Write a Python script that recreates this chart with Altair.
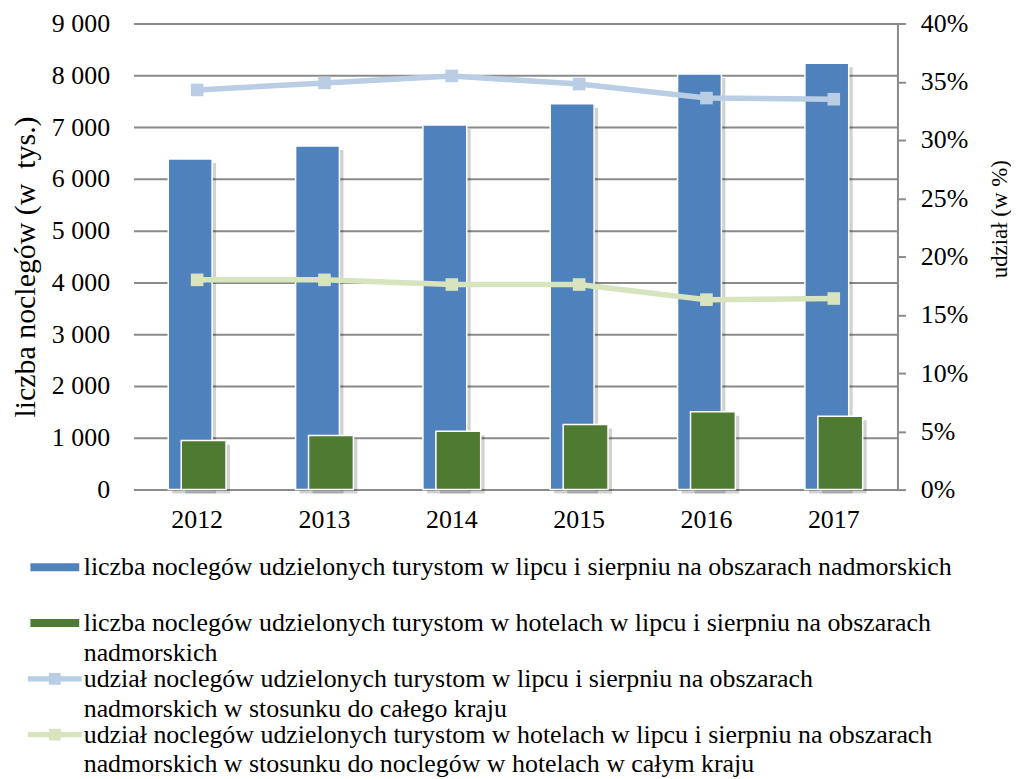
import altair as alt
import pandas as pd

years = ["2012", "2013", "2014", "2015", "2016", "2017"]
nights_total = [6385, 6635, 7040, 7450, 8025, 8230]
nights_hotels = [950, 1045, 1125, 1255, 1505, 1415]
share_total = [34.3, 34.9, 35.5, 34.8, 33.6, 33.5]
share_hotels = [18.0, 18.0, 17.6, 17.6, 16.3, 16.4]

series_labels = [
    "liczba noclegów udzielonych turystom w lipcu i sierpniu na obszarach nadmorskich| ",
    "liczba noclegów udzielonych turystom w hotelach w lipcu i sierpniu na obszarach|nadmorskich",
    "udział noclegów udzielonych turystom w lipcu i sierpniu na obszarach|nadmorskich w stosunku do całego kraju",
    "udział noclegów udzielonych turystom w hotelach w lipcu i sierpniu na obszarach|nadmorskich w stosunku do noclegów w hotelach w całym kraju",
]
series_colors = ["#4F81BD", "#4E7A31", "#B9CDE5", "#D7E4BD"]
# legend symbol shapes (unit = half of sqrt(symbolSize))
symbol_paths = [
    "M-2.13,-0.35H2.13V0.35H-2.13Z",
    "M-2.13,-0.35H2.13V0.35H-2.13Z",
    "M-2.35,-0.22H2.35V0.22H-2.35Z M-0.52,-0.52H0.52V0.52H-0.52Z",
    "M-2.35,-0.22H2.35V0.22H-2.35Z M-0.52,-0.52H0.52V0.52H-0.52Z",
]

GRID = "#8A8A8A"
FONT = "Liberation Serif, Times New Roman, serif"
FS = 26

bars_df = pd.DataFrame({"year": years, "total": nights_total, "hotels": nights_hotels})
lines_df = pd.DataFrame({"year": years, "s_total": share_total, "s_hotels": share_hotels})
legend_df = pd.DataFrame({"series": series_labels, "year": [years[0]] * 4, "total": [0] * 4})

x_enc = alt.X(
    "year:N",
    scale=alt.Scale(domain=years, paddingInner=0, paddingOuter=0),
    axis=alt.Axis(title=None, labelAngle=0, ticks=False, domainColor=GRID, domainWidth=2,
                  labelPadding=17, grid=False),
)

left_axis = alt.Axis(
    values=list(range(0, 9001, 1000)),
    title="liczba noclegów (w\u00a0\u00a0tys.)",
    labelExpr="replace(format(datum.value, ','), ',', '\u00a0')",
    grid=True, gridColor=GRID, gridWidth=2, domain=False, ticks=False, labelPadding=24,
    titleX=-108, titleY=244, titleAngle=270, titleAlign="center", titleBaseline="middle",
    titleFontSize=30,
)
left_scale = alt.Scale(domain=[0, 9000], nice=False)

right_axis = alt.Axis(
    orient="right", values=list(range(0, 41, 5)), labelExpr="datum.value + '%'",
    grid=False, domain=True, domainColor=GRID, domainWidth=2, ticks=True, tickSize=8,
    tickColor=GRID, tickWidth=2, labelPadding=15,
    title="udział (w %)", titleX=102, titleY=196, titleAngle=270,
    titleAlign="center", titleBaseline="middle", titleFontSize=23,
)
right_scale = alt.Scale(domain=[0, 40], nice=False)

base_bars = alt.Chart(bars_df)

blue_shadow = base_bars.mark_bar(color="#000000", opacity=0.18, width=44, xOffset=-3, yOffset=4).encode(
    x=x_enc, y=alt.Y("total:Q", scale=left_scale, axis=left_axis))
blue = base_bars.mark_bar(color=series_colors[0], stroke="white", strokeWidth=1.5, width=44, xOffset=-7).encode(
    x=x_enc, y=alt.Y("total:Q", scale=left_scale, axis=left_axis))
green_shadow = base_bars.mark_bar(color="#000000", opacity=0.18, width=45, xOffset=10.5, yOffset=4).encode(
    x=x_enc, y=alt.Y("hotels:Q", scale=left_scale, axis=left_axis))
green = base_bars.mark_bar(color=series_colors[1], stroke="white", strokeWidth=1.5, width=45, xOffset=6.5).encode(
    x=x_enc, y=alt.Y("hotels:Q", scale=left_scale, axis=left_axis))

legend = alt.Legend(
    title=None, orient="none", legendX=-92, legendY=533, direction="vertical",
    symbolSize=529, labelExpr="split(datum.label, '|')", labelBaseline="middle",
    rowPadding=0, symbolOpacity=1, labelOffset=16, padding=0, symbolStrokeWidth=0,
    labelLimit=1000, labelFontSize=FS, labelFont=FONT, labelColor="black",
)
legend_layer = alt.Chart(legend_df).mark_point(filled=True, opacity=0).encode(
    x=x_enc,
    y=alt.Y("total:Q", scale=left_scale, axis=left_axis),
    color=alt.Color("series:N", scale=alt.Scale(domain=series_labels, range=series_colors), legend=legend),
    shape=alt.Shape("series:N", scale=alt.Scale(domain=series_labels, range=symbol_paths), legend=legend),
)

left_group = alt.layer(blue_shadow, blue, green_shadow, green, legend_layer)

base_lines = alt.Chart(lines_df)
line_total = base_lines.mark_line(color=series_colors[2], strokeWidth=5.5).encode(
    x=x_enc, y=alt.Y("s_total:Q", scale=right_scale, axis=right_axis))
pts_total = base_lines.mark_square(color=series_colors[2], size=160, opacity=1).encode(
    x=x_enc, y=alt.Y("s_total:Q", scale=right_scale, axis=right_axis))
line_hotels = base_lines.mark_line(color=series_colors[3], strokeWidth=5.5).encode(
    x=x_enc, y=alt.Y("s_hotels:Q", scale=right_scale, axis=right_axis))
pts_hotels = base_lines.mark_square(color=series_colors[3], size=160, opacity=1).encode(
    x=x_enc, y=alt.Y("s_hotels:Q", scale=right_scale, axis=right_axis))

right_group = alt.layer(line_total, pts_total, line_hotels, pts_hotels)

chart = (
    alt.layer(left_group, right_group)
    .resolve_scale(y="independent")
    .properties(width=767, height=468, autosize="none",
                padding={"left": 126, "top": 14, "right": 114, "bottom": 289})
    .configure(font=FONT, style={"guide-label": {"lineHeight": 30}})
    .configure_view(stroke=None)
    .configure_axis(labelFont=FONT, labelFontSize=FS, labelColor="black",
                    titleFont=FONT, titleFontWeight="normal", titleColor="black")
)

chart.save("out.html", embed_options={"renderer": "svg", "actions": False})
